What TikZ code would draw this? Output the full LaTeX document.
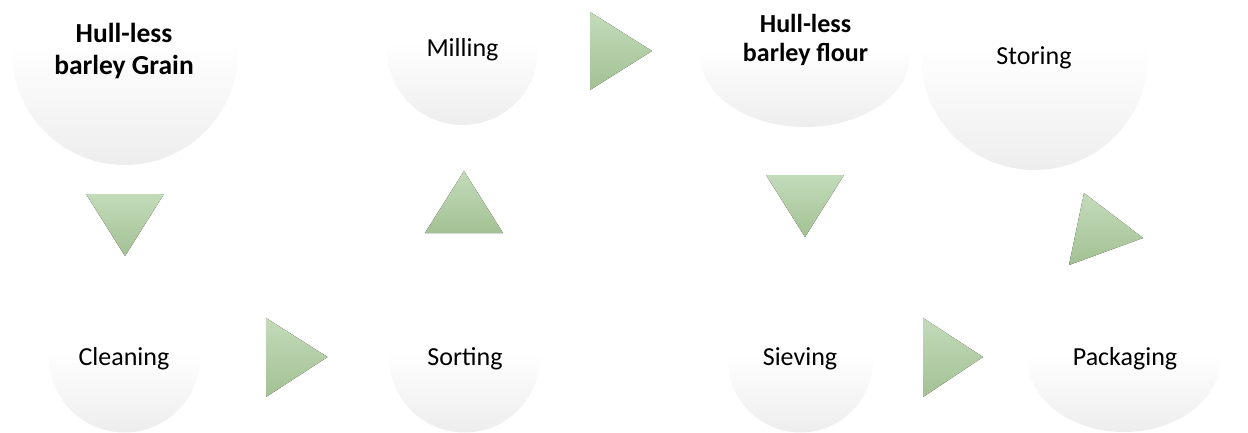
\documentclass[tikz,border=0pt]{standalone}
\usepackage{fontspec}
\setmainfont{Carlito}
\usetikzlibrary{shapes.geometric}

\definecolor{orbgrey}{HTML}{E2E2E2}
\definecolor{trigtop}{HTML}{C3DBBA}
\definecolor{trigbot}{HTML}{A3C194}

% white upper half fading into light grey at the bottom
\pgfdeclareverticalshading{orbfade}{100bp}{%
  color(0bp)=(orbgrey); color(8bp)=(orbgrey); color(52bp)=(white); color(100bp)=(white)}

\tikzset{
  orb/.style={circle, draw=none, inner sep=0pt, shade, shading=orbfade, minimum size=#1},
  oval/.style 2 args={ellipse, draw=none, inner sep=0pt, shade, shading=orbfade,
    minimum width=#1, minimum height=#2},
  steplabel/.style={anchor=base, inner sep=0pt, font=\fontsize{26}{31}\selectfont},
  headlabel/.style={anchor=base, inner sep=0pt, align=center, font=\bfseries},
  chev/.style={draw=none, top color=trigtop, bottom color=trigbot}
}

\begin{document}
\begin{tikzpicture}[x=1pt, y=1pt]
\useasboundingbox (0,0) rectangle (1248,432);
\clip (0,0) rectangle (1248,432);

% process stages
\node[orb=226pt] (grain) at (125,380) {};
\node[orb=151pt] (milling) at (462.5,382.5) {};
\node[oval={210pt}{144pt}] (flour) at (805,377) {};
\node[orb=227pt] (storing) at (1034.5,375.5) {};
\node[orb=151pt] (cleaning) at (124.5,75) {};
\node[orb=151pt] (sorting) at (464.5,75) {};
\node[orb=145pt] (sieving) at (800.5,72) {};
\node[oval={192pt}{144pt}] (packaging) at (1124,72) {};

% stage names
\node[headlabel, font=\bfseries\fontsize{27.5}{32}\selectfont] (grain-t) at (124,357) {Hull-less\\barley Grain};
\node[headlabel, font=\bfseries\fontsize{26}{29}\selectfont] (flour-t) at (805.5,370) {Hull-less\\barley flour};
\node[steplabel] (milling-t) at (462.5,375) {Milling};
\node[steplabel] (storing-t) at (1034,367) {Storing};
\node[steplabel] (cleaning-t) at (124,67) {Cleaning};
\node[steplabel] (sorting-t) at (465,67) {Sorting};
\node[steplabel] (sieving-t) at (800,67) {Sieving};
\node[steplabel] (packaging-t) at (1125,67) {Packaging};

% flow arrows
\fill[chev] (86,238) -- (164,238) -- (125,176) -- cycle;
\fill[chev] (266,114) -- (327.5,75) -- (266,35) -- cycle;
\fill[chev] (425,199) -- (503,199) -- (464,261) -- cycle;
\fill[chev] (590,420) -- (652,381) -- (590,342) -- cycle;
\fill[chev] (766,257) -- (844,257) -- (805,195) -- cycle;
\fill[chev] (923,114) -- (983,75) -- (923,35) -- cycle;
\fill[chev] (1084,239) -- (1143,194) -- (1069,167) -- cycle;
\end{tikzpicture}
\end{document}
